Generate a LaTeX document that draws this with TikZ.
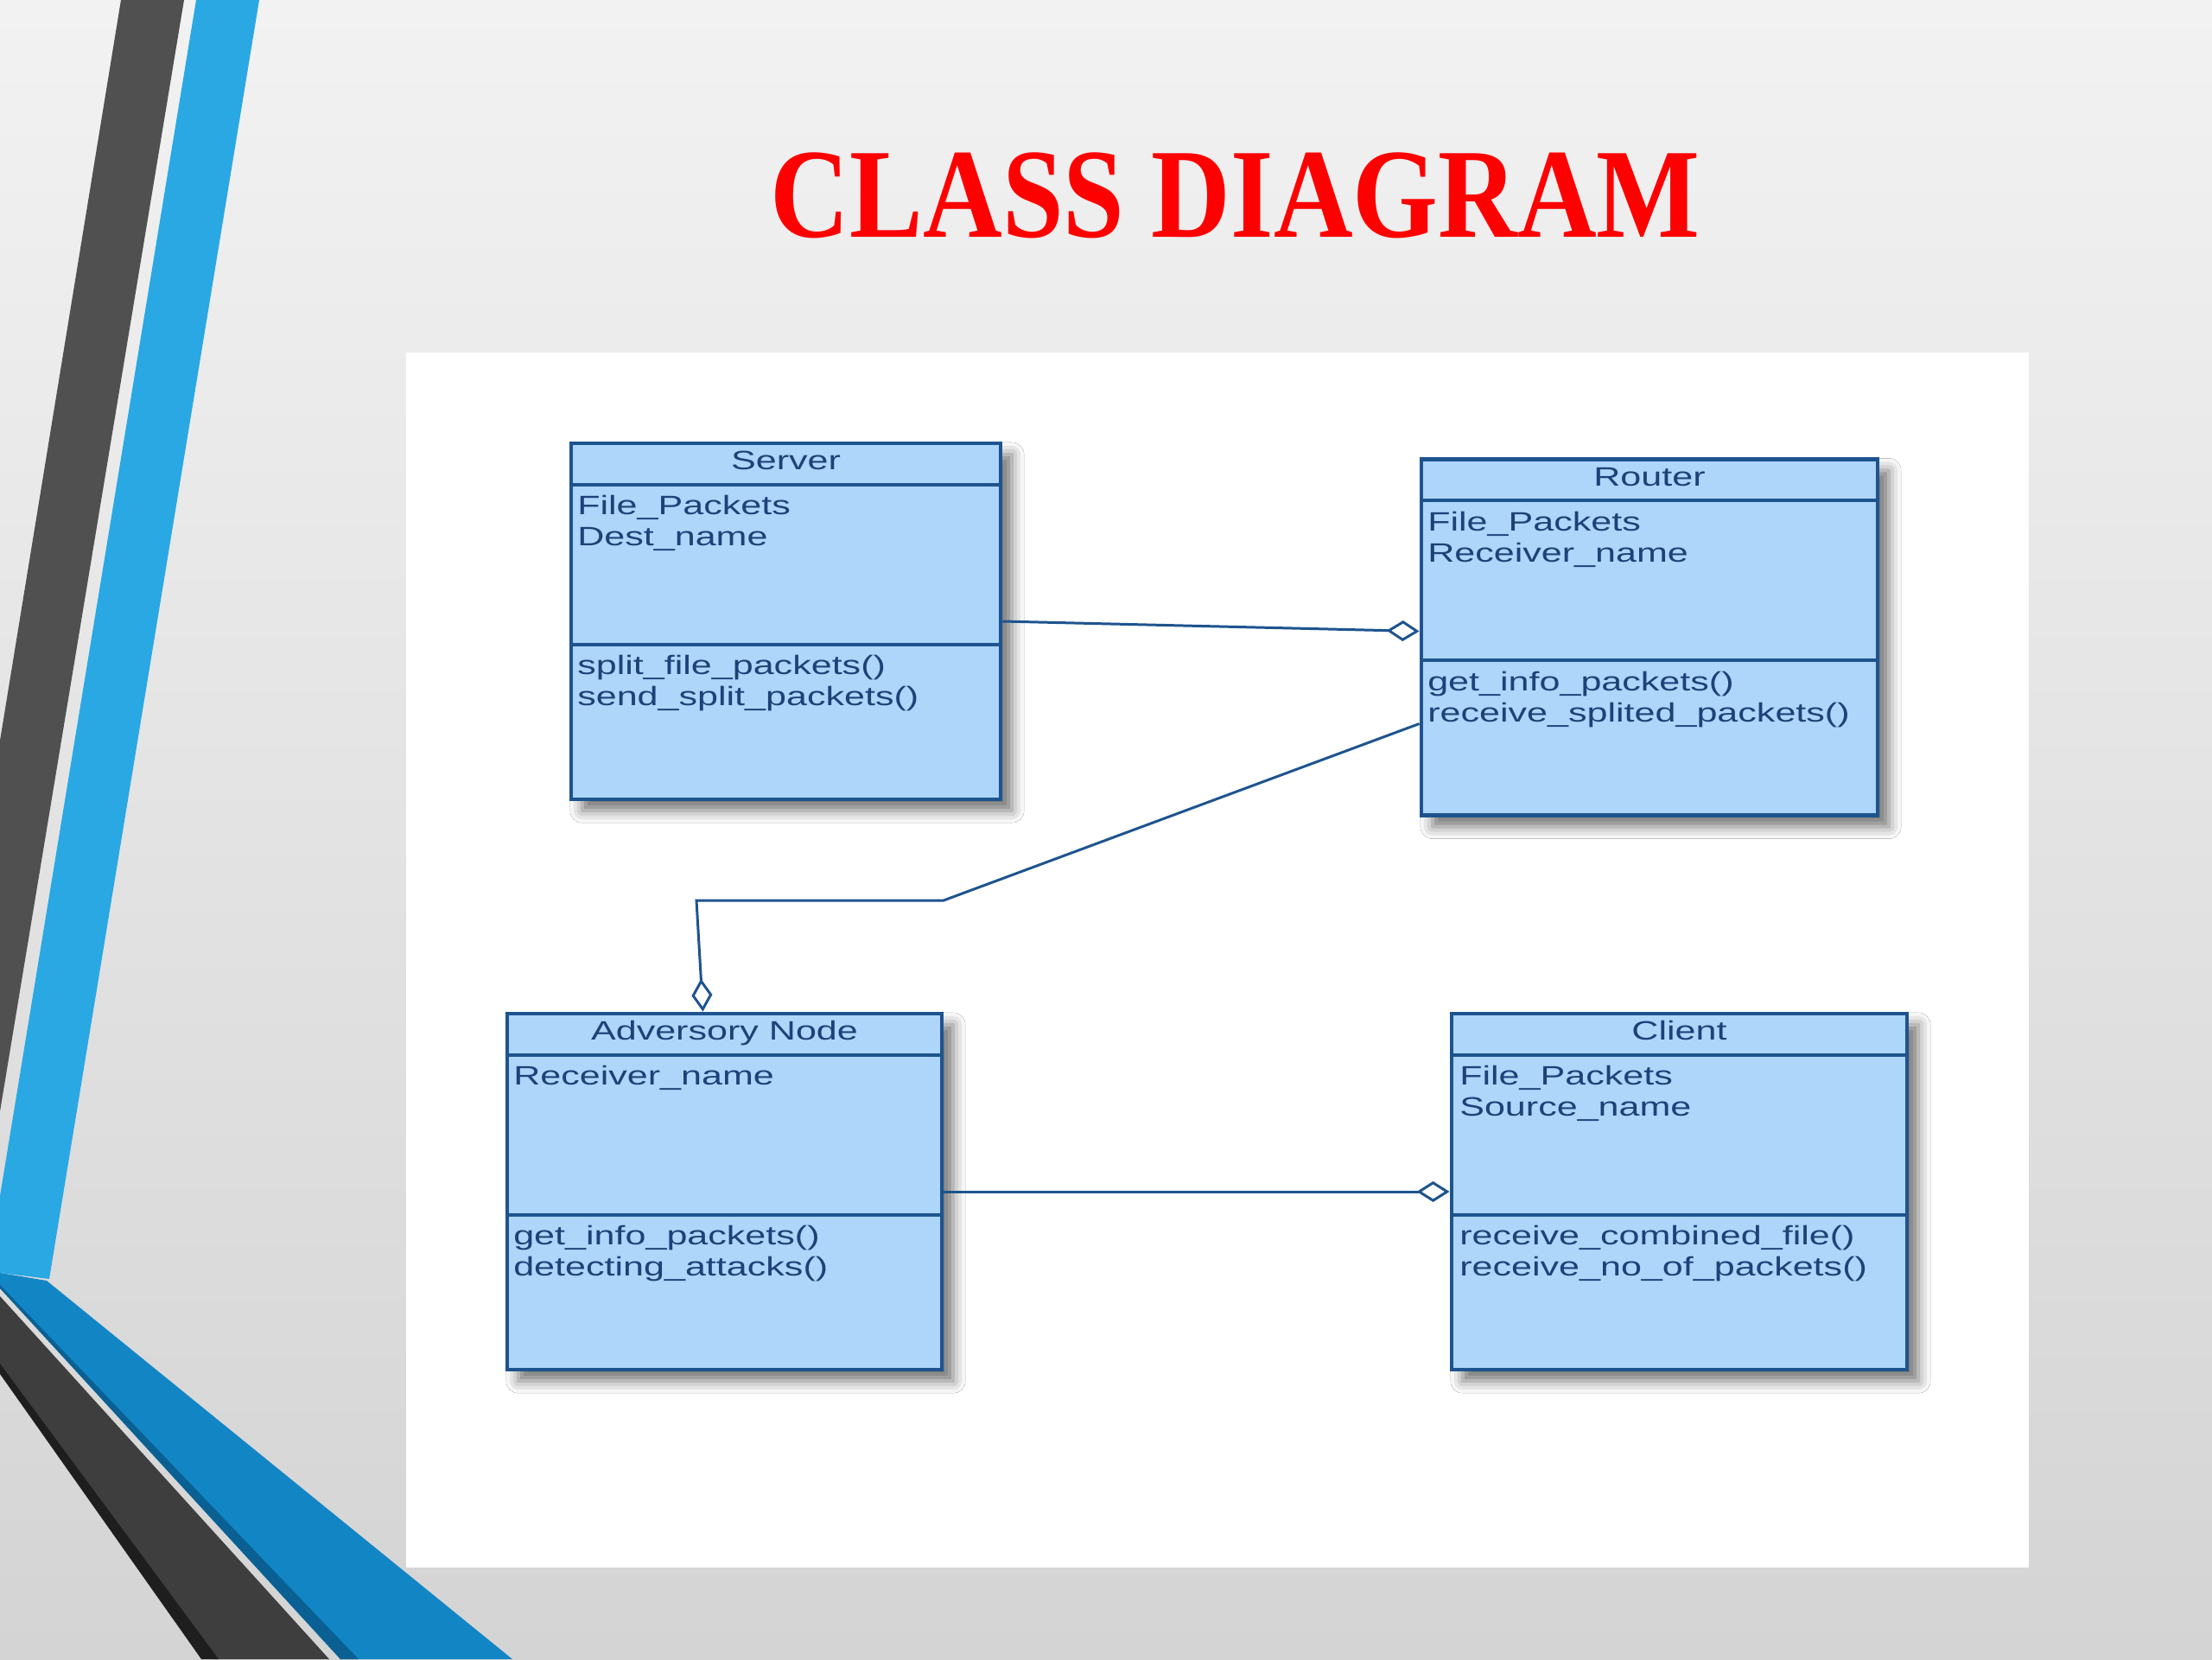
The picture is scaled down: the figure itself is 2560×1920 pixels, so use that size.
\documentclass[tikz,border=0pt]{standalone}
\usepackage{fontspec}
\usetikzlibrary{calc,arrows.meta,shadows.blur}
\newfontfamily\umlfont{Liberation Sans}[FakeStretch=1.4]
\newfontfamily\headfont{Liberation Serif}[FakeStretch=0.86]
\definecolor{bgtop}{RGB}{242,242,242}
\definecolor{bgbot}{RGB}{212,212,212}
\definecolor{stripedark}{RGB}{80,80,80}
\definecolor{stripelight}{RGB}{42,168,228}
\definecolor{stripemid}{RGB}{18,134,197}
\definecolor{stripeedge}{RGB}{10,96,146}
\definecolor{bandgray}{RGB}{62,62,62}
\definecolor{bandedge}{RGB}{30,30,30}
\definecolor{umlfill}{RGB}{174,214,250}
\definecolor{umlline}{RGB}{30,84,142}
\definecolor{umltext}{RGB}{28,66,120}
\tikzset{
  classbox/.style={draw=umlline, line width=1.3pt, fill=umlfill, inner sep=0pt,
    minimum height=4.12cm,
    blur shadow={shadow xshift=0.13cm, shadow yshift=-0.13cm,
      shadow blur radius=0.14cm, shadow opacity=55}},
  classname/.style={font=\umlfont\fontsize{8.75}{10.25}\selectfont, text=umltext,
    inner sep=0pt, anchor=base},
  members/.style={classname, align=left, anchor=north west},
  sepline/.style={draw=umlline, line width=1.2pt},
  assoc/.style={draw=umlline, line width=0.85pt},
  agg/.style={assoc, -{Diamond[length=0.38cm, width=0.24cm, fill=white]}}
}
\begin{document}
\begin{tikzpicture}[x=0.01cm, y=-0.01cm]
% slide background
\shade[top color=bgtop, bottom color=bgbot] (0,0) rectangle (2560,1920);
\useasboundingbox (0,0) rectangle (2560,1920);
\fill[stripedark] (140,0) -- (213,0) -- (0,1286) -- (0,857) -- cycle;
\fill[stripelight] (227,0) -- (300,0) -- (57,1480) -- (0,1473) -- (0,1384) -- cycle;
\fill[stripemid] (0,1473) -- (54,1482) -- (593,1920) -- (394,1920) -- (0,1490) -- cycle;
\fill[stripeedge] (0,1487) -- (415,1920) -- (394,1920) -- (0,1491) -- cycle;
\fill[bandgray] (0,1500) -- (381,1920) -- (245,1920) -- (0,1587) -- cycle;
\fill[bandedge] (0,1578) -- (253,1920) -- (233,1920) -- (0,1590) -- cycle;
\fill[white] (470,408) rectangle (2348,1814);
\node[font=\headfont\bfseries\fontsize{42}{48}\selectfont, text=red, anchor=base, inner sep=0pt] (title) at (1430,274) {CLASS DIAGRAM};

% classes
\node[classbox, minimum width=4.97cm] (server) at (909.5,719) {};
\node[classbox, minimum width=5.28cm] (router) at (1909,737.5) {};
\node[classbox, minimum width=5.03cm] (adv) at (838.5,1379) {};
\node[classbox, minimum width=5.27cm] (client) at (1943.5,1379) {};
\foreach \c in {server,router,adv,client}{
  \draw[sepline] ($(\c.north west)+(0,50)$) -- ($(\c.north east)+(0,50)$);
  \draw[sepline] ($(\c.north west)+(0,235)$) -- ($(\c.north east)+(0,235)$);
}
\node[classname] (serverN) at ($(server.north)+(0,33)$) {Server};
\node[members] (serverA) at ($(server.north west)+(9,62)$) {File\_Packets\\Dest\_name};
\node[members] (serverM) at ($(server.north west)+(9,247)$) {split\_file\_packets()\\send\_split\_packets()};
\node[classname] (routerN) at ($(router.north)+(0,33)$) {Router};
\node[members] (routerA) at ($(router.north west)+(9,62)$) {File\_Packets\\Receiver\_name};
\node[members] (routerM) at ($(router.north west)+(9,247)$) {get\_info\_packets()\\receive\_splited\_packets()};
\node[classname] (advN) at ($(adv.north)+(0,33)$) {Adversory Node};
\node[members] (advA) at ($(adv.north west)+(9,62)$) {Receiver\_name};
\node[members] (advM) at ($(adv.north west)+(9,247)$) {get\_info\_packets()\\detecting\_attacks()};
\node[classname] (clientN) at ($(client.north)+(0,33)$) {Client};
\node[members] (clientA) at ($(client.north west)+(11,62)$) {File\_Packets\\Source\_name};
\node[members] (clientM) at ($(client.north west)+(11,247)$) {receive\_combined\_file()\\receive\_no\_of\_packets()};

% associations
\coordinate (bendR) at (1092,1042);
\coordinate (bendL) at (806,1042);
\draw[agg] (server.east) -- ($(router.west)+(0,-7)$);
\draw[agg] ($(router.west)+(0,100)$) -- (bendR) -- (bendL) -- ($(adv.north)+(-25,0)$);
\draw[agg] (adv.east) -- (client.west);
\end{tikzpicture}
\end{document}
